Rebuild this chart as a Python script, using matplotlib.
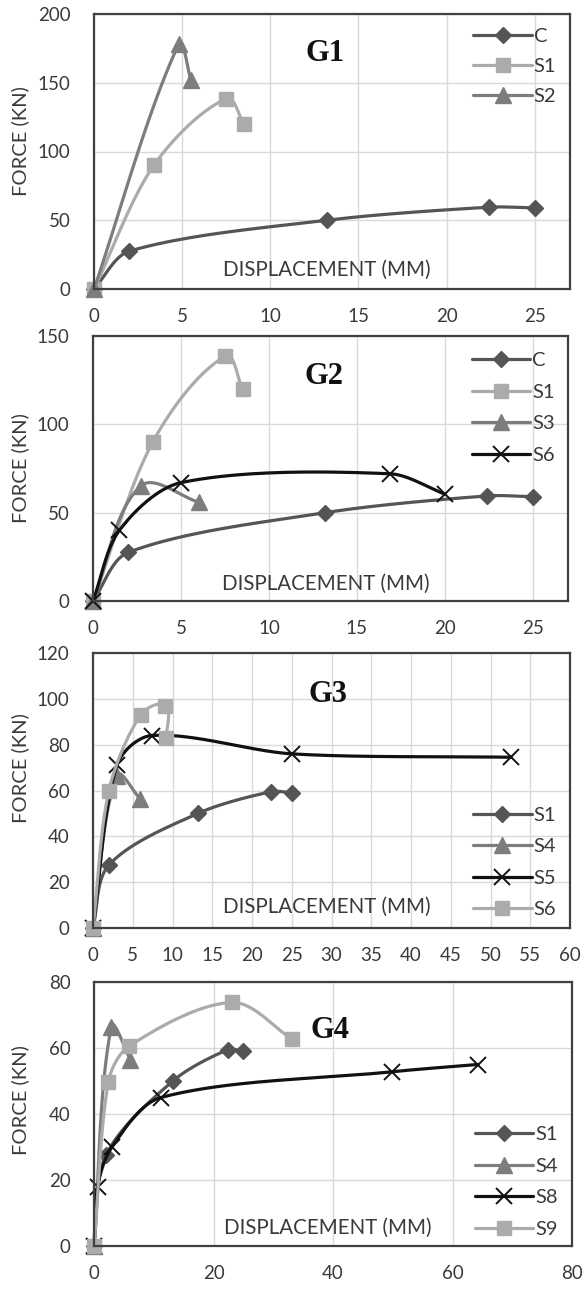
import numpy as np
import matplotlib
matplotlib.use('Agg')
import matplotlib.pyplot as plt

plt.rcParams['font.family'] = ['Lato', 'DejaVu Sans']

# ---------------- data ----------------
# G1 / G2 common
c_x = [0, 2.0, 13.2, 22.4, 25.0]
c_y = [0, 27.5, 50, 59.5, 59]
s1_x = [0, 3.4, 7.5, 8.5]
s1_y = [0, 90, 138.5, 120]
s2_x = [0, 4.8, 5.5]
s2_y = [0, 178, 152]
# G2
s3_x = [0, 2.7, 6.0]
s3_y = [0, 65, 56]
g2_s6_x = [0, 1.5, 5.0, 16.9, 20.0]
g2_s6_y = [0, 40, 67, 72, 60.5]
# G3
s4_x = [0, 3.0, 5.9]
s4_y = [0, 66.5, 56.5]
s5_x = [0, 3.0, 7.4, 25.0, 52.6]
s5_y = [0, 71, 84, 76, 74.5]
g3_s6_x = [0, 2.0, 6.0, 9.1, 9.2]
g3_s6_y = [0, 60, 93, 97, 83]
# G4
g4_s4_x = [0, 2.9, 6.1]
g4_s4_y = [0, 66.5, 56.5]
s8_x = [0, 0.6, 3.0, 11.2, 49.9, 64.2]
s8_y = [0, 18, 30, 45, 52.8, 55]
s9_x = [0, 2.4, 5.9, 23.1, 33.2]
s9_y = [0, 49.7, 60.6, 73.8, 62.6]

W, H = 585, 1290
fig = plt.figure(figsize=(W / 100, H / 100), dpi=100)

STY = {
    'dia': dict(color='#555555', marker='D', ms=8.5),
    'sq': dict(color='#ababab', marker='s', ms=10),
    'tri': dict(color='#7d7d7d', marker='^', ms=11),
    'x': dict(color='#111111', marker='x', ms=12, mew=1.4),
}
TXT = '#3a3a3a'


def smooth(xs, ys, sx, sy, n=40):
    P = np.column_stack([np.asarray(xs, float) * sx, np.asarray(ys, float) * sy])
    m = len(P)
    seglen = np.hypot(*(P[1:] - P[:-1]).T)

    def tangent(i):
        if i == 0:
            return P[1] - P[0]
        if i == m - 1:
            return P[-1] - P[-2]
        return P[i + 1] - P[i - 1]

    out = [P[0]]
    for i in range(m - 1):
        T1 = tangent(i)
        T2 = tangent(i + 1)
        L = seglen[i]
        n1 = np.linalg.norm(T1)
        n2 = np.linalg.norm(T2)
        c1 = P[i] + (T1 / n1 if n1 else T1) * L / 3.0 * 0.9
        c2 = P[i + 1] - (T2 / n2 if n2 else T2) * L / 3.0 * 0.9
        t = np.linspace(0, 1, n + 1)[1:, None]
        seg = (1 - t) ** 3 * P[i] + 3 * (1 - t) ** 2 * t * c1 + 3 * (1 - t) * t ** 2 * c2 + t ** 3 * P[i + 1]
        out.extend(seg)
    out = np.array(out)
    return out[:, 0] / sx, out[:, 1] / sy, [i * n for i in range(m)]


def panel(box, xlim, xticks, ylim, yticks, series, title, tpos, xlpos,
          ylab_y, leg_loc, leg_anchor, leg_spacing):
    l, r, t, b = box
    ax = fig.add_axes([l / W, 1 - b / H, (r - l) / W, (b - t) / H])
    ax.set_xlim(*xlim)
    ax.set_ylim(*ylim)
    ax.set_xticks(xticks)
    ax.set_yticks(yticks)
    ax.grid(True, color='#d9d9d9', lw=1.0)
    ax.set_axisbelow(True)
    for s in ax.spines.values():
        s.set_color('#404040')
        s.set_linewidth(1.6)
    ax.tick_params(length=0, labelsize=13.5, labelcolor=TXT)
    ax.tick_params(axis='y', pad=17)
    ax.tick_params(axis='x', pad=14)
    sx = (r - l) / (xlim[1] - xlim[0])
    sy = (b - t) / (ylim[1] - ylim[0])
    handles = []
    for lab, xs, ys, key in series:
        st = STY[key]
        cx, cy, idx = smooth(xs, ys, sx, sy)
        ln, = ax.plot(cx, cy, color=st['color'], lw=2.3, marker=st['marker'],
                      ms=st['ms'], mfc=st['color'], mec=st['color'],
                      mew=st.get('mew', 1.0), markevery=idx, label=lab,
                      solid_capstyle='round', clip_on=False)
        handles.append(ln)
    ax.text(tpos[0], tpos[1], title, transform=ax.transAxes, ha='center', va='center',
            fontsize=22, fontweight='bold', family='Liberation Serif', color='#111111')
    ax.text(xlpos[0], xlpos[1], 'DISPLACEMENT (MM)', transform=ax.transAxes,
            ha='center', va='center', fontsize=14.8, color=TXT)
    fig.text(20 / W, 1 - ylab_y / H, 'FORCE (KN)', rotation=90, ha='center',
             va='center', fontsize=14.5, color=TXT)
    ax.legend(handles=handles, loc=leg_loc, bbox_to_anchor=leg_anchor,
              frameon=False, fontsize=14.5, handlelength=2.9, handletextpad=0.1,
              borderpad=0, borderaxespad=0, labelspacing=leg_spacing,
              labelcolor=TXT)
    return ax


panel((94, 570, 14, 289), (0, 27), [0, 5, 10, 15, 20, 25], (0, 200), [0, 50, 100, 150, 200],
      [('C', c_x, c_y, 'dia'), ('S1', s1_x, s1_y, 'sq'), ('S2', s2_x, s2_y, 'tri')],
      'G1', (0.485, 0.855), (0.49, 0.07), 141, 'upper left', (0.797, 0.95), 0.65)

panel((93, 568, 336, 601), (0, 27), [0, 5, 10, 15, 20, 25], (0, 150), [0, 50, 100, 150],
      [('C', c_x, c_y, 'dia'), ('S1', s1_x, s1_y, 'sq'), ('S3', s3_x, s3_y, 'tri'),
       ('S6', g2_s6_x, g2_s6_y, 'x')],
      'G2', (0.487, 0.848), (0.49, 0.065), 468, 'upper left', (0.797, 0.94), 0.72)

panel((93, 570, 653, 928), (0, 60), list(range(0, 61, 5)), (0, 120), list(range(0, 121, 20)),
      [('S1', c_x, c_y, 'dia'), ('S4', s4_x, s4_y, 'tri'), ('S5', s5_x, s5_y, 'x'),
       ('S6', g3_s6_x, g3_s6_y, 'sq')],
      'G3', (0.493, 0.848), (0.49, 0.077), 768, 'lower left', (0.797, 0.035), 0.72)

panel((94, 572, 982, 1246), (0, 80), [0, 20, 40, 60, 80], (0, 80), [0, 20, 40, 60, 80],
      [('S1', c_x, c_y, 'dia'), ('S4', g4_s4_x, g4_s4_y, 'tri'), ('S8', s8_x, s8_y, 'x'),
       ('S9', s9_x, s9_y, 'sq')],
      'G4', (0.493, 0.818), (0.49, 0.068), 1100, 'lower left', (0.797, 0.03), 0.72)

fig.savefig('out.png', dpi=100, facecolor='white')
